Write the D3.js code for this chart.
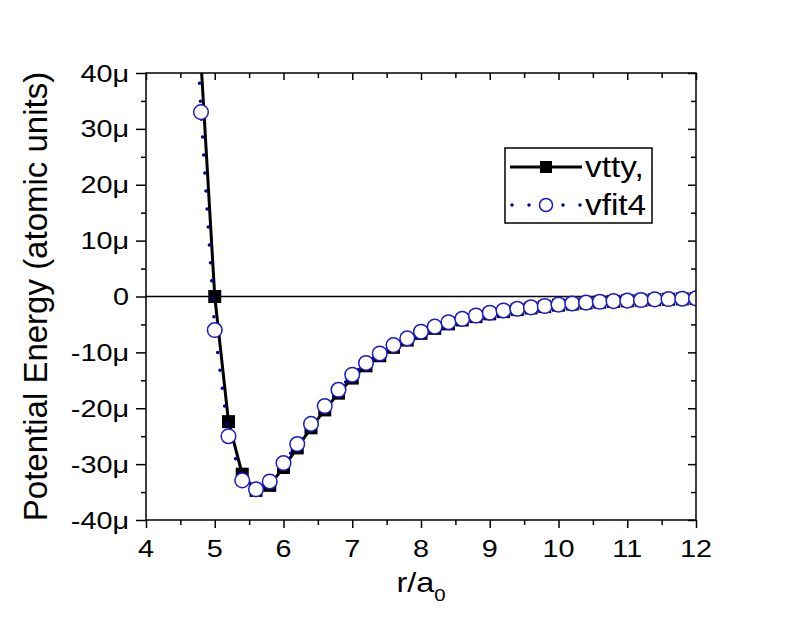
<!DOCTYPE html>
<html>
<head>
<meta charset="utf-8">
<script src="https://cdn.jsdelivr.net/npm/d3@7"></script>
<style>
  body { margin: 0; background: #fff; }
  text { font-family: "Liberation Sans", Arial, sans-serif; fill: #000; }
</style>
</head>
<body>
<div id="chart"></div>
<script>
// chart size and plot box (pixels)
var svgWidth = 808;
var svgHeight = 624;
var plot = { left: 146, right: 696, top: 73, bottom: 520 };

// r/a0 sample points (shared by both curves)
var rValues = [4.6, 4.8, 5.0, 5.2, 5.4, 5.6, 5.8, 6.0, 6.2, 6.4, 6.6, 6.8, 7.0, 7.2, 7.4, 7.6, 7.8,
  8.0, 8.2, 8.4, 8.6, 8.8, 9.0, 9.2, 9.4, 9.6, 9.8, 10.0, 10.2, 10.4, 10.6, 10.8, 11.0,
  11.2, 11.4, 11.6, 11.8, 12.0];

// potential energy, micro atomic units
var vttyValues = [95, 42, 0, -22.4, -31.8, -34.7, -33.8, -30.6, -27.1, -23.5, -20.3, -17.3, -14.6,
  -12.4, -10.6, -9.1, -7.8, -6.6, -5.7, -4.9, -4.2, -3.6, -3.1, -2.7, -2.35, -2.05, -1.8,
  -1.55, -1.35, -1.17, -1.0, -0.88, -0.78, -0.67, -0.57, -0.5, -0.43, -0.37];
var vfit4Values = [80, 33, -6, -25, -32.9, -34.5, -33.1, -29.8, -26.4, -22.8, -19.6, -16.7, -14.0,
  -11.9, -10.2, -8.7, -7.5, -6.3, -5.4, -4.6, -4.0, -3.4, -2.9, -2.5, -2.2, -1.95, -1.7,
  -1.45, -1.25, -1.1, -0.95, -0.82, -0.74, -0.63, -0.52, -0.46, -0.4, -0.34];

// axis ticks
var xMajor = [4, 5, 6, 7, 8, 9, 10, 11, 12];
var xMinor = [4.5, 5.5, 6.5, 7.5, 8.5, 9.5, 10.5, 11.5];
var yMajor = [-40, -30, -20, -10, 0, 10, 20, 30, 40];
var yMinor = [-35, -25, -15, -5, 5, 15, 25, 35];

var seriesNames = ["vtty,", "vfit4"];

var vtty = rValues.map((r, i) => ({ r: r, v: vttyValues[i] }));
var vfit4 = rValues.map((r, i) => ({ r: r, v: vfit4Values[i] }));

var svg = d3.select("#chart")
  .append("svg")
  .attr("width", svgWidth)
  .attr("height", svgHeight);

var x = d3.scaleLinear().domain([4, 12]).range([plot.left, plot.right]);
var y = d3.scaleLinear().domain([-40, 40]).range([plot.bottom, plot.top]);

svg.append("clipPath").attr("id", "plotClip")
  .append("rect")
  .attr("x", plot.left).attr("y", plot.top)
  .attr("width", plot.right - plot.left).attr("height", plot.bottom - plot.top);

// axes: bottom/left ticks point out, top/right mirror inward
function drawAxis(axis, transform) {
  var g = svg.append("g").attr("transform", transform).call(axis);
  g.select(".domain").remove();
  g.selectAll("line").attr("stroke", "#000").attr("stroke-width", 1.5);
  return g;
}
drawAxis(d3.axisBottom(x).tickValues(xMajor).tickSize(8).tickFormat(""), `translate(0,${plot.bottom})`);
drawAxis(d3.axisBottom(x).tickValues(xMinor).tickSize(5).tickFormat(""), `translate(0,${plot.bottom})`);
drawAxis(d3.axisTop(x).tickValues(xMajor).tickSize(-7).tickFormat(""), `translate(0,${plot.top})`);
drawAxis(d3.axisTop(x).tickValues(xMinor).tickSize(-5).tickFormat(""), `translate(0,${plot.top})`);
drawAxis(d3.axisLeft(y).tickValues(yMajor).tickSize(10).tickFormat(""), `translate(${plot.left},0)`);
drawAxis(d3.axisLeft(y).tickValues(yMinor).tickSize(5).tickFormat(""), `translate(${plot.left},0)`);
drawAxis(d3.axisRight(y).tickValues(yMajor).tickSize(-8).tickFormat(""), `translate(${plot.right},0)`);
drawAxis(d3.axisRight(y).tickValues(yMinor).tickSize(-5).tickFormat(""), `translate(${plot.right},0)`);

// tick labels (the original font looks a bit wide, so stretch it)
svg.selectAll(".xlab")
  .data(xMajor)
  .enter()
  .append("text")
  .attr("class", "xlab")
  .attr("transform", d => `translate(${x(d)},557) scale(1.2,1)`)
  .attr("text-anchor", "middle")
  .attr("font-size", 24)
  .text(d => d);

svg.selectAll(".ylab")
  .data(yMajor)
  .enter()
  .append("text")
  .attr("class", "ylab")
  .attr("transform", d => `translate(129,${y(d) + 8.5}) scale(1.2,1)`)
  .attr("text-anchor", "end")
  .attr("font-size", 24)
  .text(d => d === 0 ? "0" : d + "\u03bc");

// axis titles
var xTitle = svg.append("text")
  .attr("transform", `translate(${(plot.left + plot.right) / 2},592) scale(1.2,1)`)
  .attr("text-anchor", "middle")
  .attr("font-size", 27);
xTitle.append("tspan").text("r/a");
xTitle.append("tspan").attr("font-size", 17).attr("dy", 9).text("0");

svg.append("text")
  .attr("transform", `translate(47,${(plot.top + plot.bottom) / 2}) rotate(-90)`)
  .attr("text-anchor", "middle")
  .attr("font-size", 33)
  .text("Potential Energy (atomic units)");

// zero line
svg.append("line")
  .attr("x1", plot.left).attr("x2", plot.right)
  .attr("y1", y(0)).attr("y2", y(0))
  .attr("stroke", "#000").attr("stroke-width", 1.5);

var dataGroup = svg.append("g").attr("clip-path", "url(#plotClip)");

var line = d3.line().x(d => x(d.r)).y(d => y(d.v));

// vtty: solid black line with filled squares
dataGroup.append("path")
  .datum(vtty)
  .attr("d", line)
  .attr("fill", "none")
  .attr("stroke", "#000")
  .attr("stroke-width", 3);

dataGroup.selectAll(".sq")
  .data(vtty)
  .enter()
  .append("rect")
  .attr("class", "sq")
  .attr("x", d => x(d.r) - 6.5)
  .attr("y", d => y(d.v) - 6.5)
  .attr("width", 13)
  .attr("height", 13)
  .attr("fill", "#000");

// vfit4: blue dotted line with open circles
dataGroup.append("path")
  .datum(vfit4)
  .attr("d", line)
  .attr("fill", "none")
  .attr("stroke", "#0000a0")
  .attr("stroke-width", 3.5)
  .attr("stroke-linecap", "round")
  .attr("stroke-dasharray", "0 18");

dataGroup.selectAll(".circ")
  .data(vfit4)
  .enter()
  .append("circle")
  .attr("class", "circ")
  .attr("cx", d => x(d.r))
  .attr("cy", d => y(d.v))
  .attr("r", 7.3)
  .attr("fill", "#fff")
  .attr("stroke", "#1a1ac8")
  .attr("stroke-width", 1.5);

// plot frame
svg.append("rect")
  .attr("x", plot.left).attr("y", plot.top)
  .attr("width", plot.right - plot.left).attr("height", plot.bottom - plot.top)
  .attr("fill", "none")
  .attr("stroke", "#000")
  .attr("stroke-width", 1.5);

// legend
var legend = svg.append("g");
legend.append("rect")
  .attr("x", 505).attr("y", 148).attr("width", 147).attr("height", 75)
  .attr("fill", "#fff").attr("stroke", "#000").attr("stroke-width", 1.5);

legend.append("line")
  .attr("x1", 510).attr("x2", 582).attr("y1", 167).attr("y2", 167)
  .attr("stroke", "#000").attr("stroke-width", 3);
legend.append("rect")
  .attr("x", 540).attr("y", 161).attr("width", 12).attr("height", 12)
  .attr("fill", "#000");

legend.append("line")
  .attr("x1", 512).attr("x2", 582).attr("y1", 205).attr("y2", 205)
  .attr("stroke", "#0000a0").attr("stroke-width", 3.5)
  .attr("stroke-linecap", "round").attr("stroke-dasharray", "0 17");
legend.append("circle")
  .attr("cx", 546).attr("cy", 205).attr("r", 6.5)
  .attr("fill", "#fff").attr("stroke", "#1a1ac8").attr("stroke-width", 1.5);

legend.selectAll(".legtext")
  .data(seriesNames)
  .enter()
  .append("text")
  .attr("class", "legtext")
  .attr("transform", (d, i) => `translate(585,${177 + i * 38}) scale(1.15,1)`)
  .attr("font-size", 29)
  .text(d => d);
</script>
</body>
</html>
